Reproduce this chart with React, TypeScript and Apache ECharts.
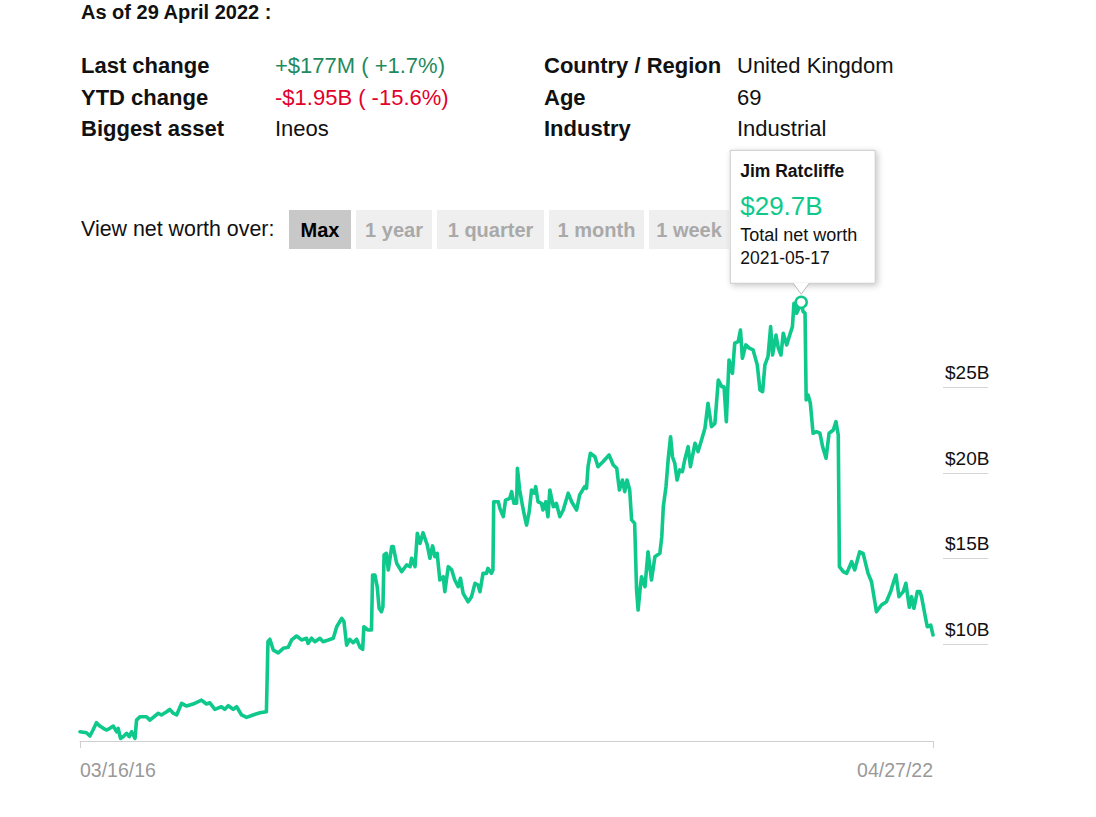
import React, { useEffect, useRef } from "react";
import * as echarts from "echarts";

// ---- data (net worth in billions of USD) ----
const dates: string[] = [
  "2016-03-16","2016-04-02","2016-04-11","2016-04-19","2016-04-28","2016-05-07","2016-05-16","2016-05-25","2016-06-02","2016-06-11",
  "2016-06-20","2016-06-24","2016-06-30","2016-07-07","2016-07-16","2016-07-23","2016-07-29","2016-08-07","2016-08-11","2016-08-20",
  "2016-09-06","2016-09-15","2016-10-07","2016-10-15","2016-10-29","2016-11-06","2016-11-15","2016-11-24","2016-12-07","2016-12-20",
  "2017-01-06","2017-01-28","2017-02-10","2017-02-19","2017-03-04","2017-03-21","2017-03-30","2017-04-08","2017-04-21","2017-04-30",
  "2017-05-13","2017-05-26","2017-06-12","2017-06-30","2017-07-17","2017-07-21","2017-07-26","2017-08-04","2017-08-17","2017-08-30",
  "2017-09-12","2017-09-21","2017-10-04","2017-10-17","2017-10-30","2017-11-03","2017-11-12","2017-11-21","2017-12-04","2017-12-12",
  "2017-12-26","2018-01-08","2018-01-17","2018-01-30","2018-02-05","2018-02-12","2018-02-20","2018-03-01","2018-03-10","2018-03-19",
  "2018-03-26","2018-03-29","2018-04-09","2018-04-18","2018-04-21","2018-04-27","2018-05-03","2018-05-08","2018-05-14","2018-05-18",
  "2018-05-21","2018-05-27","2018-06-01","2018-06-10","2018-06-14","2018-06-23","2018-07-06","2018-07-19","2018-07-28","2018-08-01",
  "2018-08-10","2018-08-16","2018-08-23","2018-08-31","2018-09-11","2018-09-18","2018-09-25","2018-10-01","2018-10-07","2018-10-14",
  "2018-10-23","2018-10-27","2018-11-05","2018-11-14","2018-11-22","2018-12-01","2018-12-07","2018-12-14","2018-12-27","2019-01-05",
  "2019-01-14","2019-01-22","2019-01-27","2019-02-04","2019-02-13","2019-02-17","2019-02-26","2019-03-02","2019-03-04","2019-03-16",
  "2019-03-20","2019-03-29","2019-04-04","2019-04-15","2019-04-20","2019-04-26","2019-05-03","2019-05-05","2019-05-11","2019-05-18",
  "2019-05-24","2019-05-29","2019-06-05","2019-06-11","2019-06-18","2019-06-22","2019-06-28","2019-07-07","2019-07-11","2019-07-18",
  "2019-07-24","2019-07-29","2019-08-07","2019-08-15","2019-08-24","2019-09-02","2019-09-15","2019-09-24","2019-10-07","2019-10-15",
  "2019-10-28","2019-11-02","2019-11-06","2019-11-12","2019-11-24","2019-12-02","2019-12-15","2019-12-31","2020-01-11","2020-01-20",
  "2020-01-27","2020-02-04","2020-02-10","2020-02-16","2020-02-23","2020-02-28","2020-03-07","2020-03-12","2020-03-16","2020-03-21",
  "2020-03-25","2020-04-03","2020-04-11","2020-04-20","2020-04-29","2020-05-12","2020-05-17","2020-05-21","2020-05-28","2020-06-03",
  "2020-06-09","2020-06-14","2020-06-20","2020-06-26","2020-07-03","2020-07-10","2020-07-16","2020-07-25","2020-07-31","2020-08-12",
  "2020-08-20","2020-08-29","2020-09-07","2020-09-15","2020-09-24","2020-10-03","2020-10-12","2020-10-21","2020-10-27","2020-11-02",
  "2020-11-09","2020-11-18","2020-11-24","2020-12-03","2020-12-09","2020-12-14","2020-12-23","2021-01-01","2021-01-11","2021-01-22",
  "2021-01-29","2021-02-05","2021-02-11","2021-02-19","2021-02-26","2021-03-03","2021-03-12","2021-03-18","2021-03-25","2021-03-31",
  "2021-04-09","2021-04-17","2021-04-24","2021-04-28","2021-05-05","2021-05-11","2021-05-17","2021-05-22","2021-05-27","2021-05-30",
  "2021-06-04","2021-06-10","2021-06-17","2021-06-26","2021-07-05","2021-07-12","2021-07-21","2021-07-29","2021-08-09","2021-08-16",
  "2021-08-22","2021-08-25","2021-09-04","2021-09-13","2021-09-26","2021-10-04","2021-10-17","2021-10-26","2021-11-08","2021-11-17",
  "2021-11-30","2021-12-13","2021-12-26","2022-01-06","2022-01-14","2022-01-20","2022-01-28","2022-02-08","2022-02-15","2022-02-24",
  "2022-03-02","2022-03-08","2022-03-17","2022-03-24","2022-03-28","2022-04-06","2022-04-12","2022-04-21","2022-04-27",
];

const netWorth: number[] = [
  4.62,4.56,4.37,4.72,5.15,4.95,4.82,4.72,4.82,4.95,
  4.62,4.82,4.23,4.33,4.53,4.33,4.62,4.23,5.30,5.50,
  5.50,5.30,5.70,5.60,5.79,5.93,5.70,5.60,6.28,6.12,
  6.24,6.47,6.24,6.31,5.93,6.08,5.93,6.14,5.93,6.08,
  5.60,5.46,5.60,5.73,5.79,9.88,10.02,9.39,9.23,9.49,
  9.55,9.98,10.21,9.98,10.08,9.78,10.08,9.88,10.08,9.88,
  9.98,10.08,10.75,11.24,11.05,9.68,10.02,9.82,10.02,9.55,
  9.43,10.75,10.56,10.56,13.77,13.77,13.09,11.83,11.63,11.92,
  14.94,15.04,14.07,15.43,15.43,14.46,13.97,14.36,14.26,14.75,
  14.26,16.21,15.62,16.24,15.53,14.75,15.47,14.84,15.04,13.48,
  13.67,12.80,14.26,14.07,13.48,13.09,13.58,12.70,12.21,12.51,
  13.29,13.19,12.80,13.87,13.87,14.16,13.87,14.07,18.05,18.05,
  17.67,17.18,18.15,18.25,18.64,17.96,17.96,20.01,18.74,17.86,
  17.18,16.69,17.47,18.74,18.55,18.93,18.05,17.96,17.57,18.05,
  17.18,18.74,17.76,17.96,17.18,17.57,18.55,18.05,17.57,18.45,
  18.93,18.84,20.10,20.88,20.68,20.10,20.39,20.78,20.20,20.01,
  18.74,19.32,18.64,19.32,18.74,16.99,16.79,12.90,11.73,12.90,
  13.67,13.09,15.13,13.48,14.84,15.04,16.01,17.76,18.93,20.59,
  21.85,20.68,20.30,19.32,19.91,19.81,20.49,21.27,20.10,21.47,
  20.98,21.66,22.34,23.80,22.44,22.63,25.16,24.77,24.77,22.73,
  26.33,25.55,27.31,27.40,28.08,26.43,27.21,27.02,26.92,26.04,
  24.58,24.48,26.04,26.52,28.28,26.62,27.79,27.02,26.62,27.89,
  27.21,27.79,28.28,29.64,29.06,29.35,29.70,29.15,29.06,24.00,
  24.29,23.80,22.05,22.14,22.05,21.27,20.59,22.05,22.24,22.73,
  21.95,14.26,13.97,13.87,14.55,14.07,15.13,15.04,13.87,13.38,
  11.63,12.02,12.21,12.80,13.38,13.77,12.51,12.80,13.29,11.89,
  12.51,11.83,12.80,12.80,12.51,11.44,10.75,10.85,10.27,
];

const yTicks: number[] = [10, 15, 20, 25];
const peakDate = "2021-05-17";
const peakValue = 29.7;

const asOfText = "As of 29 April 2022 :";
const infoLeftLabels = ["Last change", "YTD change", "Biggest asset"];
const infoLeftValues = ["+$177M ( +1.7%)", "-$1.95B ( -15.6%)", "Ineos"];
const infoRightLabels = ["Country / Region", "Age", "Industry"];
const infoRightValues = ["United Kingdom", "69", "Industrial"];
const rangeLabel = "View net worth over:";
const rangeButtons = ["Max", "1 year", "1 quarter", "1 month", "1 week"];
const tooltipName = "Jim Ratcliffe";
const tooltipCaption = "Total net worth";

// ---- styles / layout ----
const FONT = '"Liberation Sans", Arial, Helvetica, sans-serif';
const GREEN = "#0ec98b";
const TEXT = "#111111";
const buttonLayout = [
  { x: 289, w: 62 },
  { x: 356, w: 76 },
  { x: 437, w: 107 },
  { x: 549, w: 95 },
  { x: 649, w: 80 },
];
const infoRowsY = [65, 97, 128];
const leftValueColors = ["#1f8a5e", "#e3002b", TEXT];

function txt(text: string, x: number, y: number, size: number, weight: string, fill: string, align = "left", z = 10) {
  return {
    type: "text",
    x,
    y,
    z,
    silent: true,
    style: {
      text,
      fill,
      font: `${weight} ${size}px ${FONT}`,
      textAlign: align,
      textVerticalAlign: "middle",
    },
  };
}

function pad(n: number) {
  return String(n).padStart(2, "0");
}

const toTime = (d: string) => echarts.number.parseDate(d).getTime();

export default function App() {
  const ref = useRef<HTMLDivElement>(null);

  useEffect(() => {
    if (!ref.current) return;
    const chart = echarts.init(ref.current, undefined, { renderer: "svg" });

    const t0 = toTime(dates[0]);
    const t1 = toTime(dates[dates.length - 1]);
    const seriesData = dates.map((d, i) => [toTime(d), netWorth[i]]);
    const peakPoint = [toTime(peakDate), peakValue];

    chart.setOption({
      animation: false,
      backgroundColor: "#ffffff",
      grid: [
        { left: 80, right: 163, top: 280, bottom: 76 },
        { left: 943, right: 108, top: 387.2, bottom: 173 },
      ],
      xAxis: [
        {
          type: "value",
          gridIndex: 0,
          min: t0,
          max: t1,
          splitLine: { show: false },
          axisLine: { show: true, lineStyle: { color: "#cfcfcf", width: 1 } },
          axisTick: {
            show: true,
            customValues: [t0, t1],
            length: 7,
            lineStyle: { color: "#cfcfcf", width: 1 },
          },
          axisLabel: {
            show: true,
            customValues: [t0, t1],
            alignMinLabel: "left",
            alignMaxLabel: "right",
            margin: 19,
            color: "#999999",
            fontSize: 19.5,
            fontFamily: FONT,
            formatter: (v: number) => {
              const d = new Date(v);
              return `${pad(d.getMonth() + 1)}/${pad(d.getDate())}/${String(d.getFullYear()).slice(2)}`;
            },
          },
        },
        { type: "value", gridIndex: 1, show: false, min: 0, max: 1 },
      ],
      yAxis: [
        { type: "value", gridIndex: 0, show: false, min: 4.08, max: 31.0 },
        {
          type: "value",
          gridIndex: 1,
          position: "left",
          min: yTicks[0],
          max: yTicks[yTicks.length - 1],
          interval: 5,
          axisLine: { show: false },
          axisTick: { show: false },
          splitLine: { show: true, lineStyle: { color: "#d4d4d4", width: 1 } },
          axisLabel: {
            inside: true,
            align: "left",
            verticalAlign: "bottom",
            margin: 2,
            padding: [0, 0, 5, 0],
            color: TEXT,
            fontSize: 19,
            fontFamily: FONT,
            formatter: (v: number) => `$${v}B`,
          },
        },
      ],
      series: [
        {
          type: "line",
          xAxisIndex: 0,
          yAxisIndex: 0,
          data: seriesData,
          showSymbol: false,
          symbol: "none",
          lineStyle: { color: GREEN, width: 3.6, join: "round", cap: "round" },
          itemStyle: { color: GREEN },
          markPoint: {
            silent: true,
            symbol: "circle",
            symbolSize: 11,
            label: { show: false },
            itemStyle: { color: "#ffffff", borderColor: GREEN, borderWidth: 2.5 },
            data: [{ coord: peakPoint }],
          },
        },
      ],
    });

    const [px, py] = chart.convertToPixel({ seriesIndex: 0 }, peakPoint) as number[];

    const graphics: any[] = [];
    graphics.push(txt(asOfText, 81, 12, 20, "bold", TEXT));
    infoLeftLabels.forEach((l, i) => {
      graphics.push(txt(l, 81, infoRowsY[i], 22, "bold", TEXT));
      graphics.push(txt(infoLeftValues[i], 275, infoRowsY[i], 22, "normal", leftValueColors[i]));
      graphics.push(txt(infoRightLabels[i], 544, infoRowsY[i], 22, "bold", TEXT));
      graphics.push(txt(infoRightValues[i], 737, infoRowsY[i], 22, "normal", TEXT));
    });
    graphics.push(txt(rangeLabel, 81, 229, 21.4, "normal", TEXT));
    rangeButtons.forEach((b, i) => {
      const { x, w } = buttonLayout[i];
      const active = i === 0;
      graphics.push({
        type: "rect",
        z: 5,
        silent: true,
        shape: { x, y: 210, width: w, height: 39 },
        style: { fill: active ? "#c8c8c8" : "#efefef" },
      });
      graphics.push(txt(b, x + w / 2, 230, 20, "bold", active ? "#000000" : "#a9a9a9", "center", 6));
    });

    // tooltip box at the peak
    const bx = px - 71;
    const by = py - 152;
    graphics.push({
      type: "rect",
      z: 50,
      silent: true,
      shape: { x: bx, y: by, width: 145, height: 133 },
      style: {
        fill: "#ffffff",
        stroke: "#c9c9c9",
        lineWidth: 1,
        shadowBlur: 6,
        shadowColor: "rgba(0,0,0,0.22)",
        shadowOffsetX: 2,
        shadowOffsetY: 2,
      },
    });
    graphics.push({
      type: "polygon",
      z: 51,
      silent: true,
      shape: { points: [[px - 8, py - 19.5], [px, py - 8], [px + 8, py - 19.5]] },
      style: { fill: "#ffffff" },
    });
    graphics.push({
      type: "polyline",
      z: 52,
      silent: true,
      shape: { points: [[px - 8, py - 19], [px, py - 8], [px + 8, py - 19]] },
      style: { stroke: "#b9b9b9", lineWidth: 1, fill: null },
    });
    graphics.push(txt(tooltipName, bx + 10, by + 21, 17.5, "bold", TEXT, "left", 60));
    graphics.push(txt(`$${peakValue}B`, bx + 10, by + 56, 26, "normal", GREEN, "left", 60));
    graphics.push(txt(tooltipCaption, bx + 10, by + 85, 18, "normal", TEXT, "left", 60));
    graphics.push(txt(peakDate, bx + 10, by + 108, 17.5, "normal", TEXT, "left", 60));

    chart.setOption({ graphic: graphics });

    return () => chart.dispose();
  }, []);

  return (
    <div
      ref={ref}
      style={{ position: "fixed", left: 0, top: 0, width: 1096, height: 817, background: "#ffffff" }}
    />
  );
}
